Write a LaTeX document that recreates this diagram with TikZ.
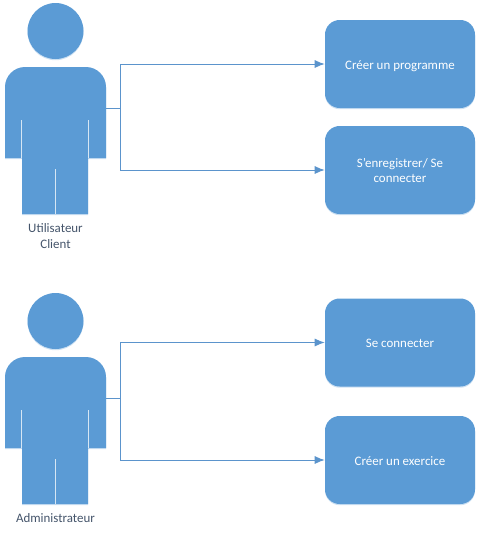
\documentclass[tikz,border=0pt]{standalone}
\usepackage{fontspec}
\setmainfont{Carlito}
\usetikzlibrary{arrows.meta,shadows}
\definecolor{fillblue}{HTML}{5B9BD5}
\definecolor{lineblue}{HTML}{5B94CC}
\definecolor{txtgrey}{HTML}{44546A}
\tikzset{
  x=0.75pt,y=-0.75pt,
  softshadow/.style={drop shadow={shadow xshift=0pt,shadow yshift=-0.9pt,fill=fillblue,opacity=0.3}},
  actorshape/.style={fill=fillblue,draw=none,softshadow},
  seam/.style={draw=white!75!fillblue,line width=0.7pt},
  taskbox/.style={rectangle,rounded corners=11pt,fill=fillblue,minimum width=112.5pt,minimum height=66pt,text=white,align=center,font=\fontsize{9.7}{11.25}\selectfont,inner sep=0pt,softshadow},
  oneline/.style={text height=7.5pt,text depth=0pt},
  lab/.style={text=txtgrey,align=center,font=\fontsize{9.7}{12}\selectfont,inner sep=0pt},
  conn/.style={draw=lineblue,line width=0.7pt,-{Latex[length=7.5pt,width=6pt]}},
}
\newcommand{\actorfig}[1]{%
  \begin{scope}[shift={(0,#1)}]
  \fill[actorshape] (55.5,31) circle [radius=28];
  \fill[actorshape] (5,158) -- (5,87) arc[start angle=180,end angle=270,radius=20] -- (86,67) arc[start angle=270,end angle=360,radius=20] -- (106,158) -- (88,158) -- (88,214) -- (22,214) -- (22,158) -- cycle;
  \draw[seam] (21.5,120) -- (21.5,158);
  \draw[seam] (88,120) -- (88,158);
  \draw[seam] (55.5,169) -- (55.5,214);
  \end{scope}}
\begin{document}
\begin{tikzpicture}
\useasboundingbox (0,0) rectangle (481,533);
\actorfig{0}
\actorfig{290}
\coordinate (a1) at (106,108);
\coordinate (a2) at (106,398);
\node[taskbox,oneline] (t1) at (400,64) {Créer un programme};
\node[taskbox] (t2) at (400,170) {S’enregistrer/ Se\\connecter};
\node[taskbox,oneline] (t3) at (400,342.5) {Se connecter};
\node[taskbox,oneline] (t4) at (400,460) {Créer un exercice};
\node[lab] (l1) at (55.5,236) {Utilisateur\\Client};
\node[lab] (l2) at (55.5,518) {Administrateur};
\draw[conn] (a1) -- (120.5,108) |- (t1.west);
\draw[conn] (a1) -- (120.5,108) |- (t2.west);
\draw[conn] (a2) -- (120.5,398) |- (t3.west);
\draw[conn] (a2) -- (120.5,398) |- (t4.west);
\end{tikzpicture}
\end{document}
